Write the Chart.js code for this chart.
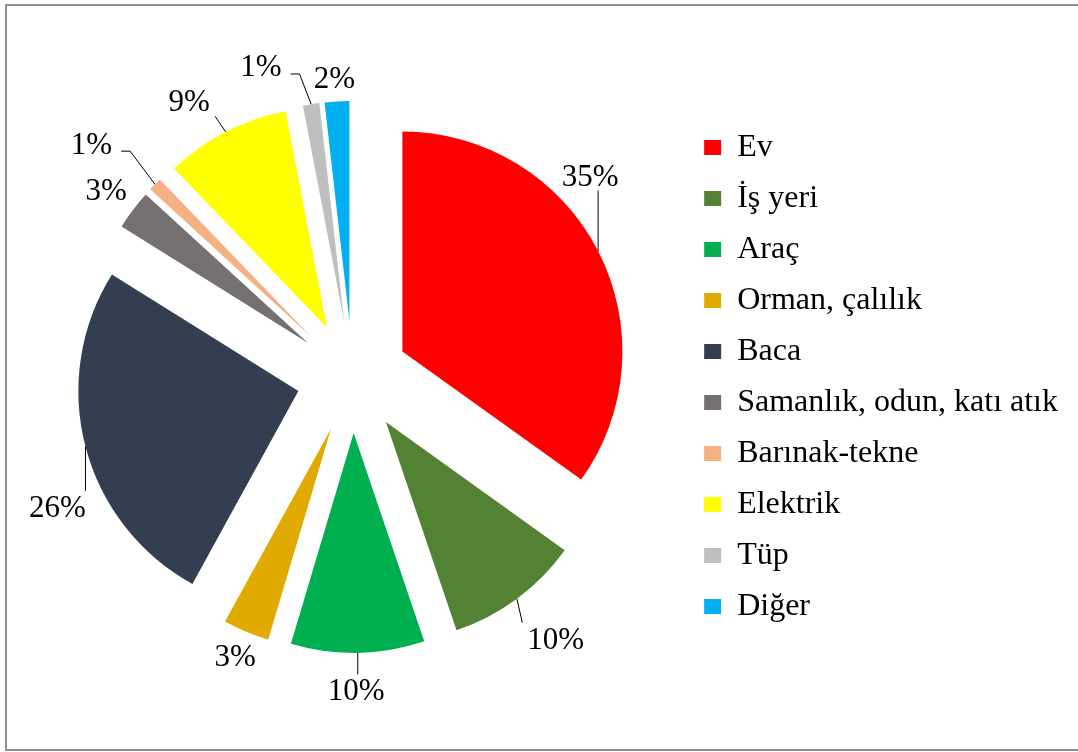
<!DOCTYPE html>
<html>
<head>
<meta charset="utf-8">
<script src="https://cdn.jsdelivr.net/npm/chart.js@4.4.1/dist/chart.umd.min.js"></script>
<style>
html, body { margin: 0; padding: 0; background: #fff; }
#wrap { position: relative; width: 1078px; height: 752px; overflow: hidden; }
#frame { position: absolute; left: 5px; top: 4px; width: 1080px; height: 743px; border: 2px solid #909090; }
#c { position: absolute; left: 0; top: 0; }
</style>
</head>
<body>
<div id="wrap">
  <div id="frame"></div>
  <canvas id="c" width="1078" height="752"></canvas>
</div>
<script>
// ---- data ----
const categories = ['Ev', 'İş yeri', 'Araç', 'Orman, çalılık', 'Baca', 'Samanlık, odun, katı atık', 'Barınak-tekne', 'Elektrik', 'Tüp', 'Diğer'];
const values = [34.9, 9.9, 9.8, 3.4, 25.9, 2.9, 1.0, 9.2, 1.2, 1.8];
const colors = ['#FF0000', '#548235', '#00B050', '#E0AA00', '#333F50', '#767171', '#F4B183', '#FFFF00', '#BFBFBF', '#00B0F0'];

// label placement relative to each slice (angle shift in degrees, radius multiple)
const labelShiftDeg = [-16.0, -1.6, 0.5, 0.2, -11.0, 0.0, -2.9, -3.9, -9.4, -0.3];
const labelRadius = [1.171, 1.25, 1.168, 1.121, 1.214, 1.153, 1.339, 1.205, 1.222, 1.107];

const EXPLODE = 56;
const RADIUS = 220;
const LABEL_FONT = 31;
const FONT_FAMILY = "'Liberation Serif', 'Times New Roman', serif";

const total = values.reduce((a, b) => a + b, 0);
const pctText = values.map(v => Math.round(v / total * 100) + '%');

const explodePlugin = {
  id: 'explode',
  beforeDatasetsDraw(chart) {
    const ctx = chart.ctx;
    chart.getDatasetMeta(0).data.forEach(arc => {
      const mid = (arc.startAngle + arc.endAngle) / 2;
      ctx.save();
      ctx.translate(Math.cos(mid) * EXPLODE, Math.sin(mid) * EXPLODE);
      arc.draw(ctx);
      ctx.restore();
    });
    return false;
  }
};

const labelPlugin = {
  id: 'sliceLabels',
  afterDraw(chart) {
    const ctx = chart.ctx;
    const meta = chart.getDatasetMeta(0);
    const size = LABEL_FONT;
    ctx.save();
    ctx.font = size + 'px ' + FONT_FAMILY;
    ctx.fillStyle = '#000';
    ctx.strokeStyle = '#000';
    ctx.lineWidth = 1;
    ctx.textAlign = 'center';
    ctx.textBaseline = 'alphabetic';
    meta.data.forEach((arc, i) => {
      const mid = (arc.startAngle + arc.endAngle) / 2;
      const vx = arc.x + Math.cos(mid) * EXPLODE;
      const vy = arc.y + Math.sin(mid) * EXPLODE;
      const R = arc.outerRadius;
      const la = mid + labelShiftDeg[i] * Math.PI / 180;
      const cx = vx + Math.cos(la) * R * labelRadius[i];
      const cy = vy + Math.sin(la) * R * labelRadius[i];
      const text = pctText[i];
      const w = ctx.measureText(text).width;
      const h = size * 0.676;
      ctx.fillText(text, cx, cy + h / 2);

      const px = vx + Math.cos(mid) * R;
      const py = vy + Math.sin(mid) * R;
      const pad = 5;
      const L = cx - w / 2 - pad, Rr = cx + w / 2 + pad, T = cy - h / 2 - pad, B = cy + h / 2 + pad;
      const qx = Math.min(Math.max(px, L), Rr);
      const qy = Math.min(Math.max(py, T), B);
      if (Math.hypot(px - qx, py - qy) < 12) return;
      ctx.beginPath();
      ctx.moveTo(px, py);
      if (Math.abs(px - qx) > Math.abs(py - qy)) {
        const dir = px > cx ? 1 : -1;
        const side = cx + dir * (w / 2 + 9);
        const ey = Math.min(Math.max(py, cy - 8), cy + 8);
        ctx.lineTo(side + dir * 9, ey);
        ctx.lineTo(side, ey);
      } else {
        ctx.lineTo(qx, qy);
      }
      ctx.stroke();
    });
    ctx.restore();
  }
};

new Chart(document.getElementById('c'), {
  type: 'pie',
  data: {
    labels: categories,
    datasets: [{
      data: values,
      backgroundColor: colors,
      borderWidth: 0,
      radius: RADIUS
    }]
  },
  options: {
    responsive: false,
    animation: false,
    devicePixelRatio: 1,
    layout: { padding: { left: 20, right: 10, top: 20, bottom: 18 } },
    plugins: {
      tooltip: { enabled: false },
      legend: {
        position: 'right',
        align: 'center',
        labels: {
          boxWidth: 17,
          boxHeight: 15,
          padding: 19,
          color: '#000',
          font: { family: FONT_FAMILY, size: 32 }
        }
      }
    }
  },
  plugins: [explodePlugin, labelPlugin]
});
</script>
</body>
</html>
